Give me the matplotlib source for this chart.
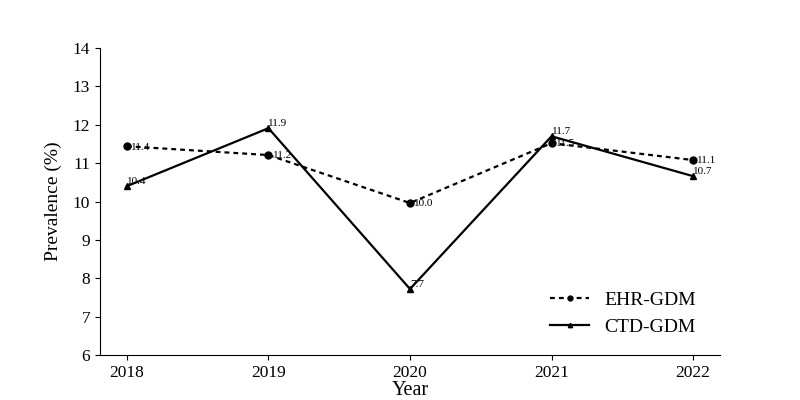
import matplotlib
matplotlib.use("Agg")
import matplotlib.pyplot as plt

years = [2018, 2019, 2020, 2021, 2022]
ehr_gdm = [11.44, 11.21, 9.96, 11.52, 11.08]
ctd_gdm = [10.40, 11.91, 7.72, 11.70, 10.66]
ehr_labels = ["11.4", "11.2", "10.0", "11.5", "11.1"]
ctd_labels = ["10.4", "11.9", "7.7", "11.7", "10.7"]

plt.rcParams["font.family"] = ["Liberation Serif", "DejaVu Serif"]

fig = plt.figure(figsize=(8, 4), dpi=100)
ax = fig.add_axes([0.125, 0.1125, 0.775, 0.7675])

ax.plot(years, ehr_gdm, color="black", lw=1.6, ls=(0, (2.2, 1.8)),
        marker="o", ms=5, label="EHR-GDM")
ax.plot(years, ctd_gdm, color="black", lw=1.6, ls="-",
        marker="^", ms=4.5, label="CTD-GDM")

for x, y, t in zip(years, ehr_gdm, ehr_labels):
    ax.text(x + 0.03, y - 0.02, t, fontsize=8, ha="left", va="center")
for x, y, t in zip(years, ctd_gdm, ctd_labels):
    ax.text(x + 0.0, y + 0.12, t, fontsize=8, ha="left", va="center")

ax.set_xlim(2017.81, 2022.19)
ax.set_ylim(6, 14)
ax.set_xticks(years)
ax.set_yticks(range(6, 15))
ax.tick_params(labelsize=12.5)
ax.set_xlabel("Year", fontsize=14.5, labelpad=0)
ax.set_ylabel("Prevalence (%)", fontsize=14, labelpad=8)
ax.spines["top"].set_visible(False)
ax.spines["right"].set_visible(False)
ax.legend(loc="lower right", frameon=False, fontsize=14,
          bbox_to_anchor=(0.99, 0.005), handlelength=2.0, markerscale=0.7)

fig.savefig("out.png", dpi=100)
